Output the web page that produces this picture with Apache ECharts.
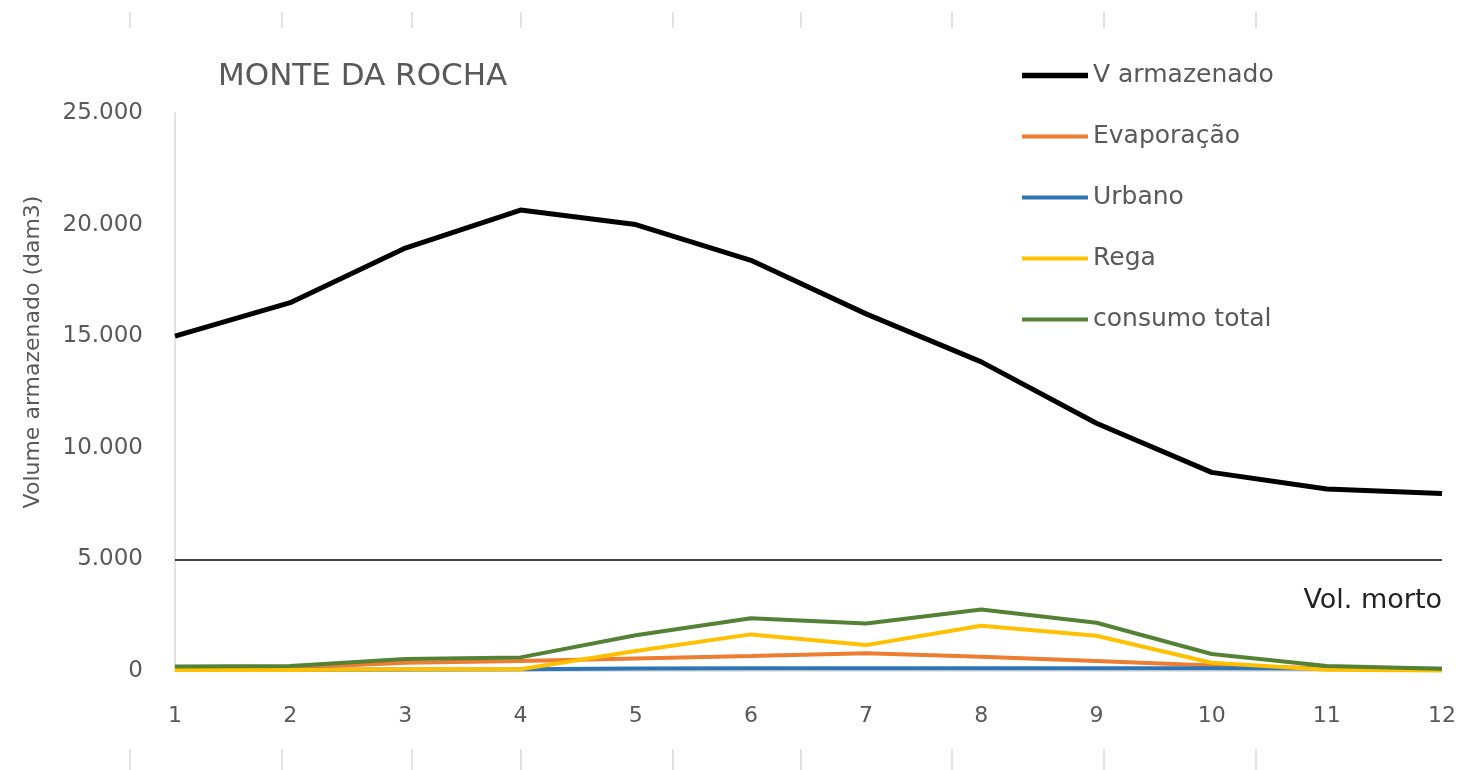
<!DOCTYPE html>
<html>
<head>
<meta charset="utf-8">
<script src="https://cdn.jsdelivr.net/npm/echarts@6/dist/echarts.min.js"></script>
<style>html,body{margin:0;padding:0;background:#fff;}#c{width:1461px;height:770px;}</style>
</head>
<body>
<div id="c"></div>
<script>
const months = ['1','2','3','4','5','6','7','8','9','10','11','12'];
const vArmazenado = [15000, 16500, 18950, 20650, 20000, 18400, 16000, 13850, 11100, 8900, 8150, 7950];
const evaporacao = [100, 150, 370, 450, 560, 670, 790, 640, 450, 250, 120, 40];
const urbano = [60, 60, 70, 80, 110, 120, 120, 120, 120, 120, 110, 100];
const rega = [40, 40, 80, 80, 900, 1640, 1160, 2030, 1580, 370, 60, 20];
const consumoTotal = [200, 220, 540, 610, 1600, 2360, 2130, 2760, 2160, 760, 220, 100];
const volMorto = 5000;

const FONT = 'DejaVu Sans';
const TXT = '#595959';
const fmt = v => v === 0 ? '0' : String(v).replace(/\B(?=(\d{3})+(?!\d))/g, '.');

const tickXs = [130, 282, 412, 521, 673, 801, 952, 1104, 1256];
const deco = [];
tickXs.forEach(x => {
  deco.push({type:'line', shape:{x1:x, y1:12, x2:x, y2:28}, style:{stroke:'#d9d9d9', lineWidth:1.5}, silent:true});
  deco.push({type:'line', shape:{x1:x, y1:749, x2:x, y2:770}, style:{stroke:'#d9d9d9', lineWidth:1.5}, silent:true});
});
deco.push({type:'text', x:33, y:352, rotation:Math.PI/2,
  style:{text:'Volume armazenado (dam3)', font:'22px "DejaVu Sans"', fill:TXT, textAlign:'center', textVerticalAlign:'middle'}});

const chart = echarts.init(document.getElementById('c'));
const mk = (name, data, color, width) => ({
  name, type:'line', data, symbol:'none', smooth:false,
  lineStyle:{color, width}, itemStyle:{color}
});
const s0 = mk('V armazenado', vArmazenado, '#000000', 5);
s0.markLine = {
  silent:true, symbol:'none',
  lineStyle:{color:'#000', width:1.5, type:'solid'},
  label:{show:true, position:'insideEndBottom', formatter:'Vol. morto', fontFamily:FONT, fontSize:27, color:'#222', distance:[0, 28]},
  data:[{yAxis:volMorto}]
};
const thick = 'path://M0,0H66V5.5H0Z';
const thin = 'path://M0,0H66V4H0Z';
chart.setOption({
  animation:false,
  backgroundColor:'#fff',
  title:{text:'MONTE DA ROCHA', left:218, top:61, padding:0, textStyle:{fontFamily:FONT, fontSize:31, fontWeight:'normal', color:TXT}},
  legend:{
    orient:'vertical', left:1022, top:63, padding:0, itemWidth:66, itemHeight:14, itemGap:36,
    textStyle:{fontFamily:FONT, fontSize:25, color:TXT},
    data:[
      {name:'V armazenado', icon:thick},
      {name:'Evaporação', icon:thin},
      {name:'Urbano', icon:thin},
      {name:'Rega', icon:thin},
      {name:'consumo total', icon:thin}
    ]
  },
  grid:{left:175, right:19, top:113, bottom:99},
  xAxis:{
    type:'category', data:months, boundaryGap:false,
    axisLine:{lineStyle:{color:'#d9d9d9', width:1.5}},
    axisTick:{show:false},
    axisLabel:{fontFamily:FONT, fontSize:22, color:TXT, margin:34}
  },
  yAxis:{
    type:'value', min:0, max:25000, interval:5000,
    axisLine:{show:true, lineStyle:{color:'#d9d9d9', width:1.5}},
    axisTick:{show:false},
    splitLine:{show:false},
    axisLabel:{fontFamily:FONT, fontSize:23, color:TXT, margin:32, formatter:fmt}
  },
  graphic:deco,
  series:[
    s0,
    mk('Evaporação', evaporacao, '#ED7D31', 4),
    mk('Urbano', urbano, '#2E75B6', 4),
    mk('Rega', rega, '#FFC000', 4),
    mk('consumo total', consumoTotal, '#548235', 4)
  ]
});
</script>
</body>
</html>
